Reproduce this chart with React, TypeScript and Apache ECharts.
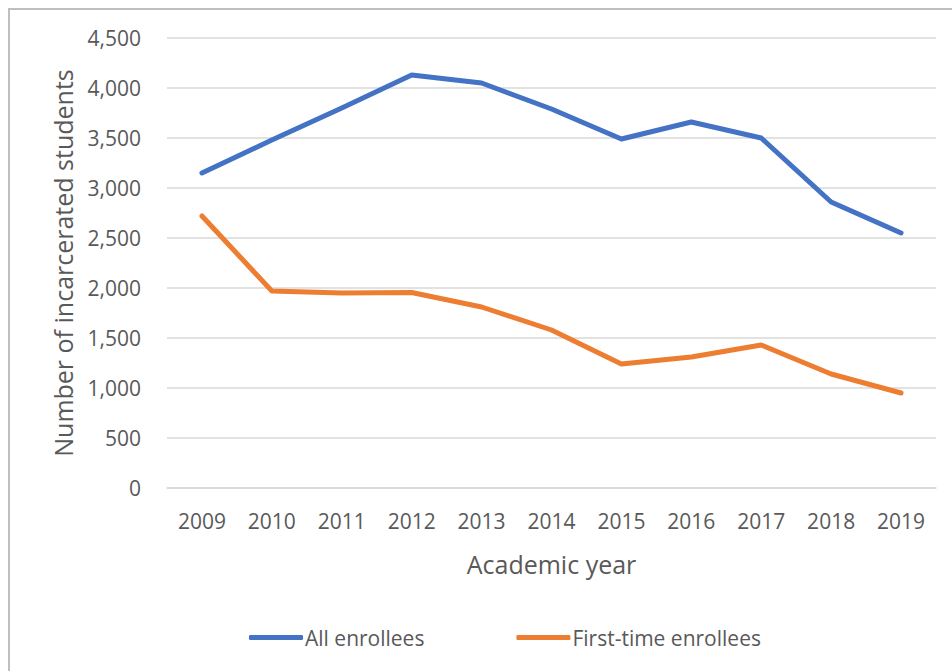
import React, { useEffect, useRef } from "react";
import * as echarts from "echarts";

const years = ["2009", "2010", "2011", "2012", "2013", "2014", "2015", "2016", "2017", "2018", "2019"];
const allEnrollees = [3150, 3480, 3800, 4130, 4050, 3790, 3490, 3660, 3500, 2860, 2550];
const firstTimeEnrollees = [2720, 1970, 1950, 1955, 1810, 1580, 1240, 1310, 1430, 1140, 950];

const FONT = "'Open Sans', 'Noto Sans', sans-serif";

export default function App() {
  const ref = useRef<HTMLDivElement>(null);
  useEffect(() => {
    if (!ref.current) return;
    const chart = echarts.init(ref.current, null, { renderer: "svg" });
    chart.setOption({
      animation: false,
      backgroundColor: "#ffffff",
      textStyle: { fontFamily: FONT },
      grid: { left: 167, right: 16, top: 38, bottom: 183, containLabel: false },
      legend: {
        bottom: 18,
        left: 244,
        itemWidth: 54,
        itemHeight: 5,
        itemGap: 92,
        icon: "roundRect",
        textStyle: { fontSize: 21, color: "#595959", fontFamily: FONT, padding: [0, 0, 0, -3] },
        data: ["All enrollees", "First-time enrollees"],
      },
      xAxis: {
        type: "category",
        data: years,
        boundaryGap: true,
        name: "Academic year",
        nameLocation: "middle",
        nameGap: 63,
        nameTextStyle: { fontSize: 25, color: "#595959", fontFamily: FONT },
        axisLine: { show: true, lineStyle: { color: "#D9D9D9", width: 1.5 } },
        axisTick: { show: false },
        axisLabel: { fontSize: 21, color: "#595959", margin: 22, fontFamily: FONT },
      },
      yAxis: {
        type: "value",
        min: 0,
        max: 4500,
        interval: 500,
        name: "Number of incarcerated students",
        nameLocation: "middle",
        nameGap: 92,
        nameTextStyle: { fontSize: 25, color: "#595959", fontFamily: FONT },
        axisLine: { show: false },
        axisTick: { show: false },
        axisLabel: {
          fontSize: 21,
          color: "#595959",
          margin: 26,
          fontFamily: FONT,
          formatter: (v: number) => v.toLocaleString("en-US"),
        },
        splitLine: { lineStyle: { color: "#D9D9D9", width: 1.5 } },
      },
      series: [
        {
          name: "All enrollees",
          type: "line",
          data: allEnrollees,
          symbol: "none",
          color: "#4472C4",
          lineStyle: { width: 5, cap: "round", join: "round", color: "#4472C4" },
        },
        {
          name: "First-time enrollees",
          type: "line",
          data: firstTimeEnrollees,
          symbol: "none",
          color: "#ED7D31",
          lineStyle: { width: 5, cap: "round", join: "round", color: "#ED7D31" },
        },
      ],
      graphic: [
        {
          type: "rect",
          shape: { x: 9, y: 9, width: 960, height: 680 },
          style: { fill: "none", stroke: "#BFBFBF", lineWidth: 2 },
          silent: true,
        },
      ],
    });
    return () => chart.dispose();
  }, []);
  return (
    <div
      ref={ref}
      style={{ position: "absolute", left: 0, top: 0, width: 952, height: 671 }}
    />
  );
}
